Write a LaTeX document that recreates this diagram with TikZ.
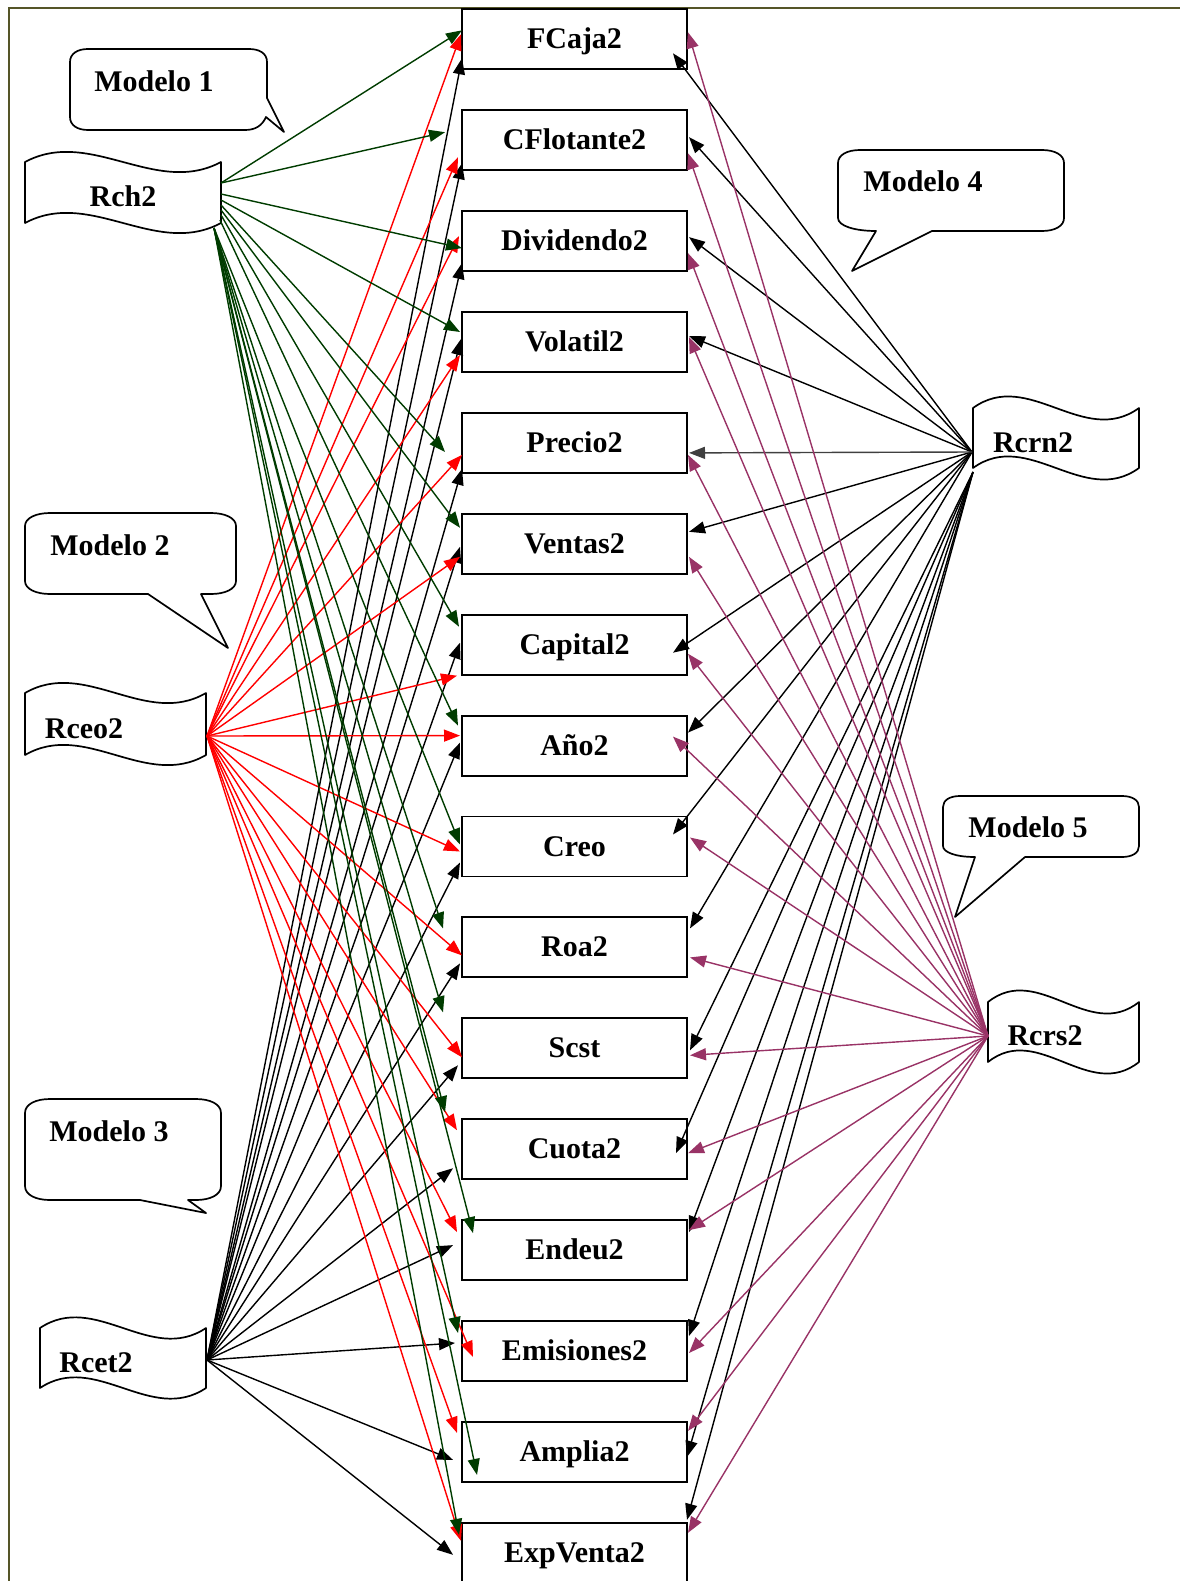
\documentclass[tikz,border=0pt]{standalone}
\usepackage{fontspec}
\setmainfont{Liberation Serif}
\usetikzlibrary{arrows.meta,calc}
\definecolor{frameol}{RGB}{85,85,40}
\definecolor{dgreen}{RGB}{0,60,0}
\definecolor{plum}{RGB}{153,51,102}
\definecolor{dgrey}{RGB}{64,64,64}
\tikzset{
  vbox/.style={draw=black, line width=1.9pt, fill=white, minimum width=225pt, minimum height=60pt,
    inner sep=0pt, outer sep=0pt, text height=21pt, text depth=2pt,
    font=\fontsize{30}{34}\selectfont\bfseries},
  lbl/.style={anchor=base, inner sep=0pt, font=\fontsize{30}{34}\selectfont\bfseries},
  shp/.style={draw=black, line width=1.7pt, fill=white, line join=round},
  conn/.style={line width=1.4pt, -{Triangle[length=16pt,width=12pt]}},
  gconn/.style={conn, draw=dgreen, fill=dgreen},
  rconn/.style={conn, draw=red, fill=red},
  kconn/.style={conn, draw=black, fill=black},
  pconn/.style={conn, draw=plum, fill=plum},
  frameline/.style={draw=frameol, line width=2pt}
}
\begin{document}
\begin{tikzpicture}[x=1pt,y=-1pt]
\useasboundingbox (0,0) rectangle (1179,1581);
\draw[frameline] (9,1590) -- (9,8) -- (1190,8);

% variable boxes
\foreach \i/\t in {0/FCaja2,1/CFlotante2,2/Dividendo2,3/Volatil2,4/Precio2,5/Ventas2,6/Capital2,7/Año2,8/Creo,9/Roa2,10/Scst,11/Cuota2,12/Endeu2,13/Emisiones2,14/Amplia2,15/ExpVenta2}
  \node[vbox] (b\i) at (574.5,{39.3+100.9*\i}) {\t};

% wave shapes
\draw[shp] (25,162) .. controls (90.3,127) and (155.7,197) .. (221,162) -- (221,223) .. controls (155.7,258) and (90.3,188) .. (25,223) -- cycle;
\draw[shp] (25,693) .. controls (85.3,658) and (145.7,728) .. (206,693) -- (206,755) .. controls (145.7,790) and (85.3,720) .. (25,755) -- cycle;
\draw[shp] (40,1328) .. controls (95.3,1291) and (150.7,1365) .. (206,1328) -- (206,1388) .. controls (150.7,1425) and (95.3,1351) .. (40,1388) -- cycle;
\draw[shp] (973,408) .. controls (1028.3,368) and (1083.7,448) .. (1139,408) -- (1139,468) .. controls (1083.7,508) and (1028.3,428) .. (973,468) -- cycle;
\draw[shp] (988,1002) .. controls (1038.3,962) and (1088.7,1042) .. (1139,1002) -- (1139,1062) .. controls (1088.7,1102) and (1038.3,1022) .. (988,1062) -- cycle;

\node[lbl] (rch) at (123,207) {Rch2};
\node[lbl] (rceo) at (84,738) {Rceo2};
\node[lbl] (rcet) at (96,1372) {Rcet2};
\node[lbl] (rcrn) at (1033,452) {Rcrn2};
\node[lbl] (rcrs) at (1045,1045) {Rcrs2};

% callouts
\draw[shp] (88,49) -- (249,49) .. controls (259,49) and (267,53) .. (267,62) -- (267,98) -- (284,132) -- (266,117) .. controls (262,126) and (255,130) .. (245,130) -- (88,130) .. controls (77,130) and (70,125) .. (70,117) -- (70,62) .. controls (70,54) and (77,49) .. (88,49) -- cycle;
\draw[shp] (50,513) -- (211,513) .. controls (225,513) and (236,518) .. (236,526) -- (236,581) .. controls (236,589) and (225,594) .. (211,594) -- (201,594) -- (228,648) -- (148,594) -- (50,594) .. controls (36,594) and (25,589) .. (25,581) -- (25,526) .. controls (25,518) and (36,513) .. (50,513) -- cycle;
\draw[shp] (50,1099) -- (196,1099) .. controls (210,1099) and (221,1104) .. (221,1113) -- (221,1186) .. controls (221,1195) and (210,1200) .. (196,1200) -- (188,1200) -- (206,1213) -- (140,1200) -- (50,1200) .. controls (36,1200) and (25,1195) .. (25,1186) -- (25,1113) .. controls (25,1104) and (36,1099) .. (50,1099) -- cycle;
\draw[shp] (860,150) -- (1042,150) .. controls (1055,150) and (1064,155) .. (1064,163) -- (1064,218) .. controls (1064,226) and (1055,231) .. (1042,231) -- (932,231) -- (852,271) -- (876,231) .. controls (855,231) and (838,226) .. (838,218) -- (838,163) .. controls (838,155) and (847,150) .. (860,150) -- cycle;
\draw[shp] (960,796) -- (1122,796) .. controls (1132,796) and (1139,800) .. (1139,807) -- (1139,846) .. controls (1139,853) and (1132,857) .. (1122,857) -- (1025,857) -- (955,917) -- (975,857) .. controls (955,857) and (943,852) .. (943,846) -- (943,807) .. controls (943,800) and (950,796) .. (960,796) -- cycle;

\node[lbl] (m1) at (154,92) {Modelo 1};
\node[lbl] (m2) at (110,555) {Modelo 2};
\node[lbl] (m3) at (109,1141) {Modelo 3};
\node[lbl] (m4) at (923,192) {Modelo 4};
\node[lbl] (m5) at (1028,837) {Modelo 5};

% source points
\coordinate (rchA) at (221,183);
\coordinate (rchB) at (221,194);
\coordinate (rchC) at (221,200);
\coordinate (rchD) at (221,205);
\coordinate (rchE) at (221,210);
\coordinate (rchF) at (221,215);
\coordinate (rchG) at (220,220);
\coordinate (rchH) at (214,228);
\coordinate (ceo) at (207,736);
\coordinate (cet) at (207,1360);
\coordinate (crnA) at (972,452);
\coordinate (crnB) at (973,472);
\coordinate (crs) at (988,1036);

% Rcet2 (black)
\foreach \k/\dx/\dy in {0/0/49,1/0/53,2/0/52,3/-1/27,4/0/56,5/-2/33,6/-2/28,7/-2/27,8/-2/46,9/-2/46,10/-4/47,11/-9/49,12/-9/25,13/-7/22,14/-9/38,15/-9/32}
  \draw[kconn] (cet) -- ($(b\k.north west)+(\dx,\dy)$);

% Rceo2 (red)
\foreach \k/\dx/\dy in {0/-1/25,1/-4/47,2/-3/25,3/-2/43,4/0/42,5/-2/43,6/-5/61,7/-2/20,8/-2/35,9/0/38,10/0/39,11/-5/11,12/-5/12,13/11/36,14/-5/11,15/-1/18}
  \draw[rconn] (ceo) -- ($(b\k.north west)+(\dx,\dy)$);

% Rch2 (green)
\foreach \s/\k/\dx/\dy in {rchA/0/0/21,rchA/1/-17/22,rchB/2/0/37,rchC/3/-2/20,rchD/4/-17/39,rchE/5/-2/14,rchF/6/-3/12,rchG/7/-4/10,rchH/8/-2/28,rchH/9/-19/11,rchH/10/-19/-6,rchH/11/-17/-7,rchH/12/11/13,rchH/13/-4/12,rchH/14/15/53,rchH/15/-3/12}
  \draw[gconn] (\s) -- ($(b\k.north west)+(\dx,\dy)$);

% Rcrn2 (black)
\foreach \s/\k/\dx/\dy in {crnA/0/-14/44,crnA/1/2/27,crnA/2/2/26,crnA/3/2/24,crnA/5/2/18,crnA/6/-14/38,crnA/7/1/17,crnA/8/-14/18,crnA/9/3/11,crnB/10/3/32,crnB/11/-11/34,crnB/12/2/12,crnB/13/2/15,crnB/14/0/35,crnB/15/0/-3}
  \draw[kconn] (\s) -- ($(b\k.north east)+(\dx,\dy)$);
\draw[conn, draw=dgrey, fill=dgrey] (crnA) -- ($(b4.north east)+(2,40)$);

% Rcrs2 (plum)
\foreach \k/\dx/\dy in {0/1/23,1/1/43,2/1/42,3/2/25,4/1/42,5/2/43,6/1/39,7/-14/21,8/3/21,9/3/40,10/3/37,11/1/34,12/2/10,13/2/32,14/1/9,15/1/10}
  \draw[pconn] (crs) -- ($(b\k.north east)+(\dx,\dy)$);
\end{tikzpicture}
\end{document}
